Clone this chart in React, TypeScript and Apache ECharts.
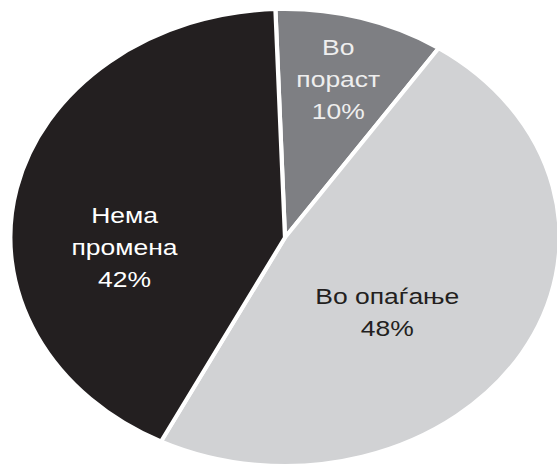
import React, { useEffect, useRef } from "react";
import * as echarts from "echarts";

const categories = ["Во пораст", "Во опаѓање", "Нема промена"];
const values = [10, 48, 42];

const sliceColors = ["#7e7f83", "#d1d2d4", "#231f20"];
const labelColors = ["#eeeeee", "#231f20", "#ffffff"];
const wrapName = [true, false, true];
const labelShift = [
  [12, -46],
  [-16, 16],
  [-19, 35],
];

const STRETCH = 1.203;
const PAGE_W = 557;
const PAGE_H = 467;

export default function App() {
  const ref = useRef<HTMLDivElement>(null);

  useEffect(() => {
    if (!ref.current) return;
    const chart = echarts.init(ref.current, undefined, { renderer: "svg" });
    chart.setOption({
      animation: false,
      backgroundColor: "#ffffff",
      series: [
        {
          type: "pie",
          center: [236.9, 237.5],
          radius: 228.3,
          startAngle: 92,
          clockwise: true,
          avoidLabelOverlap: false,
          itemStyle: { borderColor: "#ffffff", borderWidth: 3.5 },
          label: {
            show: true,
            position: "inside",
            fontFamily: "Liberation Sans",
            fontSize: 22,
            lineHeight: 32,
            align: "center",
            formatter: (p: any) => {
              const name = wrapName[p.dataIndex]
                ? String(p.name).replace(" ", "\n")
                : p.name;
              return name + "\n" + p.value + "%";
            },
          },
          labelLine: { show: false },
          labelLayout: (p: any) => ({
            dx: labelShift[p.dataIndex][0],
            dy: labelShift[p.dataIndex][1],
          }),
          data: categories.map((c, i) => ({
            name: c,
            value: values[i],
            itemStyle: { color: sliceColors[i] },
            label: { color: labelColors[i] },
          })),
        },
      ],
    });
    return () => chart.dispose();
  }, []);

  return (
    <div
      style={{
        position: "absolute",
        left: 0,
        top: 0,
        width: PAGE_W,
        height: PAGE_H,
        overflow: "hidden",
        background: "#ffffff",
      }}
    >
      <div
        ref={ref}
        style={{
          width: Math.round(PAGE_W / STRETCH),
          height: PAGE_H,
          transform: `scaleX(${STRETCH})`,
          transformOrigin: "0 0",
        }}
      />
    </div>
  );
}
